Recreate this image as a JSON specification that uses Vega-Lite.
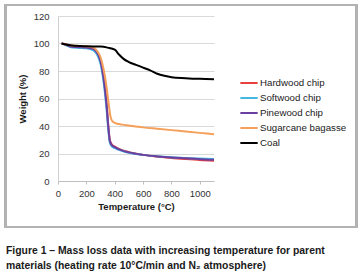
{
  "$schema": "https://vega.github.io/schema/vega-lite/v6.json",
  "width": 156,
  "height": 165,
  "padding": {"left": 4, "top": 4, "right": 4, "bottom": 4},
  "background": "white",
  "config": {
    "view": {"stroke": null},
    "font": "Liberation Sans"
  },
  "title": {
    "text": ["Figure 1 – Mass loss data with increasing temperature for parent", "materials (heating rate 10°C/min and N₂ atmosphere)"],
    "orient": "bottom",
    "anchor": "start",
    "frame": "group",
    "dx": -52,
    "offset": 18,
    "fontSize": 10.4,
    "fontWeight": "bold",
    "font": "Liberation Sans",
    "color": "#1a1a1a",
    "lineHeight": 15
  },
  "data": {
    "values": [
      {"s": "Hardwood chip", "t": 25, "w": 100},
      {"s": "Hardwood chip", "t": 50, "w": 99.5},
      {"s": "Hardwood chip", "t": 100, "w": 98},
      {"s": "Hardwood chip", "t": 150, "w": 97.8},
      {"s": "Hardwood chip", "t": 200, "w": 97.5},
      {"s": "Hardwood chip", "t": 250, "w": 96.5},
      {"s": "Hardwood chip", "t": 280, "w": 93},
      {"s": "Hardwood chip", "t": 300, "w": 88},
      {"s": "Hardwood chip", "t": 320, "w": 78},
      {"s": "Hardwood chip", "t": 340, "w": 60},
      {"s": "Hardwood chip", "t": 355, "w": 40},
      {"s": "Hardwood chip", "t": 365, "w": 30},
      {"s": "Hardwood chip", "t": 380, "w": 26.5},
      {"s": "Hardwood chip", "t": 400, "w": 25},
      {"s": "Hardwood chip", "t": 450, "w": 22.5},
      {"s": "Hardwood chip", "t": 500, "w": 21},
      {"s": "Hardwood chip", "t": 600, "w": 19},
      {"s": "Hardwood chip", "t": 700, "w": 17.8},
      {"s": "Hardwood chip", "t": 800, "w": 16.8},
      {"s": "Hardwood chip", "t": 900, "w": 16},
      {"s": "Hardwood chip", "t": 1000, "w": 15.3},
      {"s": "Hardwood chip", "t": 1100, "w": 14.8},
      {"s": "Softwood chip", "t": 25, "w": 100},
      {"s": "Softwood chip", "t": 50, "w": 99},
      {"s": "Softwood chip", "t": 100, "w": 97},
      {"s": "Softwood chip", "t": 150, "w": 96.8},
      {"s": "Softwood chip", "t": 200, "w": 96.5},
      {"s": "Softwood chip", "t": 250, "w": 95},
      {"s": "Softwood chip", "t": 280, "w": 91},
      {"s": "Softwood chip", "t": 300, "w": 85},
      {"s": "Softwood chip", "t": 320, "w": 73},
      {"s": "Softwood chip", "t": 340, "w": 55},
      {"s": "Softwood chip", "t": 355, "w": 37},
      {"s": "Softwood chip", "t": 365, "w": 28},
      {"s": "Softwood chip", "t": 380, "w": 25},
      {"s": "Softwood chip", "t": 400, "w": 24},
      {"s": "Softwood chip", "t": 450, "w": 22},
      {"s": "Softwood chip", "t": 500, "w": 20.5},
      {"s": "Softwood chip", "t": 600, "w": 19},
      {"s": "Softwood chip", "t": 700, "w": 18},
      {"s": "Softwood chip", "t": 800, "w": 17.3},
      {"s": "Softwood chip", "t": 900, "w": 16.8},
      {"s": "Softwood chip", "t": 1000, "w": 16.3},
      {"s": "Softwood chip", "t": 1100, "w": 16},
      {"s": "Pinewood chip", "t": 25, "w": 100},
      {"s": "Pinewood chip", "t": 50, "w": 99.3},
      {"s": "Pinewood chip", "t": 100, "w": 97.6},
      {"s": "Pinewood chip", "t": 150, "w": 97.3},
      {"s": "Pinewood chip", "t": 200, "w": 97},
      {"s": "Pinewood chip", "t": 250, "w": 96},
      {"s": "Pinewood chip", "t": 280, "w": 92.5},
      {"s": "Pinewood chip", "t": 300, "w": 87},
      {"s": "Pinewood chip", "t": 320, "w": 76},
      {"s": "Pinewood chip", "t": 340, "w": 58},
      {"s": "Pinewood chip", "t": 355, "w": 39},
      {"s": "Pinewood chip", "t": 365, "w": 29.5},
      {"s": "Pinewood chip", "t": 380, "w": 26},
      {"s": "Pinewood chip", "t": 400, "w": 24.7},
      {"s": "Pinewood chip", "t": 450, "w": 22.3},
      {"s": "Pinewood chip", "t": 500, "w": 20.8},
      {"s": "Pinewood chip", "t": 600, "w": 19},
      {"s": "Pinewood chip", "t": 700, "w": 17.9},
      {"s": "Pinewood chip", "t": 800, "w": 17.1},
      {"s": "Pinewood chip", "t": 900, "w": 16.5},
      {"s": "Pinewood chip", "t": 1000, "w": 15.9},
      {"s": "Pinewood chip", "t": 1100, "w": 15.5},
      {"s": "Sugarcane bagasse", "t": 25, "w": 100},
      {"s": "Sugarcane bagasse", "t": 100, "w": 98.5},
      {"s": "Sugarcane bagasse", "t": 200, "w": 98},
      {"s": "Sugarcane bagasse", "t": 250, "w": 97},
      {"s": "Sugarcane bagasse", "t": 280, "w": 94},
      {"s": "Sugarcane bagasse", "t": 300, "w": 90},
      {"s": "Sugarcane bagasse", "t": 320, "w": 82},
      {"s": "Sugarcane bagasse", "t": 340, "w": 70},
      {"s": "Sugarcane bagasse", "t": 355, "w": 58},
      {"s": "Sugarcane bagasse", "t": 370, "w": 47},
      {"s": "Sugarcane bagasse", "t": 380, "w": 44},
      {"s": "Sugarcane bagasse", "t": 400, "w": 42.3},
      {"s": "Sugarcane bagasse", "t": 450, "w": 41},
      {"s": "Sugarcane bagasse", "t": 500, "w": 40.3},
      {"s": "Sugarcane bagasse", "t": 600, "w": 39},
      {"s": "Sugarcane bagasse", "t": 700, "w": 38},
      {"s": "Sugarcane bagasse", "t": 800, "w": 37},
      {"s": "Sugarcane bagasse", "t": 900, "w": 36},
      {"s": "Sugarcane bagasse", "t": 1000, "w": 35},
      {"s": "Sugarcane bagasse", "t": 1100, "w": 34},
      {"s": "Coal", "t": 25, "w": 100},
      {"s": "Coal", "t": 100, "w": 98.5},
      {"s": "Coal", "t": 200, "w": 98},
      {"s": "Coal", "t": 300, "w": 97.8},
      {"s": "Coal", "t": 350, "w": 97},
      {"s": "Coal", "t": 400, "w": 95.5},
      {"s": "Coal", "t": 430, "w": 92},
      {"s": "Coal", "t": 460, "w": 89},
      {"s": "Coal", "t": 500, "w": 86.5},
      {"s": "Coal", "t": 550, "w": 84.5},
      {"s": "Coal", "t": 600, "w": 82.5},
      {"s": "Coal", "t": 650, "w": 80.5},
      {"s": "Coal", "t": 700, "w": 78},
      {"s": "Coal", "t": 750, "w": 76.5},
      {"s": "Coal", "t": 800, "w": 75.5},
      {"s": "Coal", "t": 900, "w": 74.8},
      {"s": "Coal", "t": 1000, "w": 74.3},
      {"s": "Coal", "t": 1100, "w": 74}
    ]
  },
  "layer": [
    {
      "mark": {"type": "line", "strokeWidth": 2, "interpolate": "monotone"},
      "encoding": {
        "x": {
          "field": "t", "type": "quantitative",
          "scale": {"domain": [0, 1100], "nice": false},
          "axis": {
            "title": "Temperature (°C)", "values": [0, 200, 400, 600, 800, 1000], "format": "d",
            "labelOverlap": false, "labelBound": false, "labelFlush": false,
            "grid": false, "domainColor": "#bfbfbf", "tickColor": "#bfbfbf", "tickSize": 3,
            "labelFontSize": 9.5, "labelColor": "#333", "labelPadding": 4,
            "titleFontSize": 9.5, "titleFontWeight": "bold", "titleColor": "#1a1a1a", "titlePadding": 4
          }
        },
        "y": {
          "field": "w", "type": "quantitative",
          "scale": {"domain": [0, 120], "nice": false},
          "axis": {
            "title": "Weight (%)", "values": [0, 20, 40, 60, 80, 100, 120], "format": "d",
            "labelOverlap": false, "labelBound": false, "labelFlush": false,
            "grid": true, "gridColor": "#d9d9d9", "domainColor": "#d0d0d0", "ticks": false,
            "labelFontSize": 9.5, "labelColor": "#333", "labelPadding": 9,
            "titleFontSize": 9.5, "titleFontWeight": "bold", "titleColor": "#1a1a1a", "titlePadding": 6
          }
        },
        "color": {
          "field": "s", "type": "nominal",
          "scale": {
            "domain": ["Hardwood chip", "Softwood chip", "Pinewood chip", "Sugarcane bagasse", "Coal"],
            "range": ["#e8403c", "#46b6e3", "#6b3fa0", "#f5a05a", "#000000"]
          },
          "legend": {
            "title": null, "orient": "none", "legendX": 181, "legendY": 57,
            "symbolType": "stroke", "symbolStrokeWidth": 2, "symbolSize": 300,
            "labelFontSize": 9.7, "labelColor": "#1a1a1a", "labelOffset": 1, "rowPadding": 0
          }
        }
      }
    },
    {
      "mark": {"type": "rect", "fill": null, "stroke": "#b3b3b3", "strokeWidth": 2, "clip": false},
      "encoding": {
        "x": {
          "datum": -367, "type": "quantitative",
          "axis": {
            "title": "Temperature (°C)", "values": [0, 200, 400, 600, 800, 1000], "format": "d",
            "labelOverlap": false, "labelBound": false, "labelFlush": false,
            "grid": false, "domainColor": "#bfbfbf", "tickColor": "#bfbfbf", "tickSize": 3,
            "labelFontSize": 9.5, "labelColor": "#333", "labelPadding": 4,
            "titleFontSize": 9.5, "titleFontWeight": "bold", "titleColor": "#1a1a1a", "titlePadding": 4
          }
        },
        "x2": {"datum": 2108},
        "y": {
          "datum": 128, "type": "quantitative",
          "axis": {
            "title": "Weight (%)", "values": [0, 20, 40, 60, 80, 100, 120], "format": "d",
            "labelOverlap": false, "labelBound": false, "labelFlush": false,
            "grid": true, "gridColor": "#d9d9d9", "domainColor": "#d0d0d0", "ticks": false,
            "labelFontSize": 9.5, "labelColor": "#333", "labelPadding": 9,
            "titleFontSize": 9.5, "titleFontWeight": "bold", "titleColor": "#1a1a1a", "titlePadding": 6
          }
        },
        "y2": {"datum": -33.5}
      }
    }
  ]
}
